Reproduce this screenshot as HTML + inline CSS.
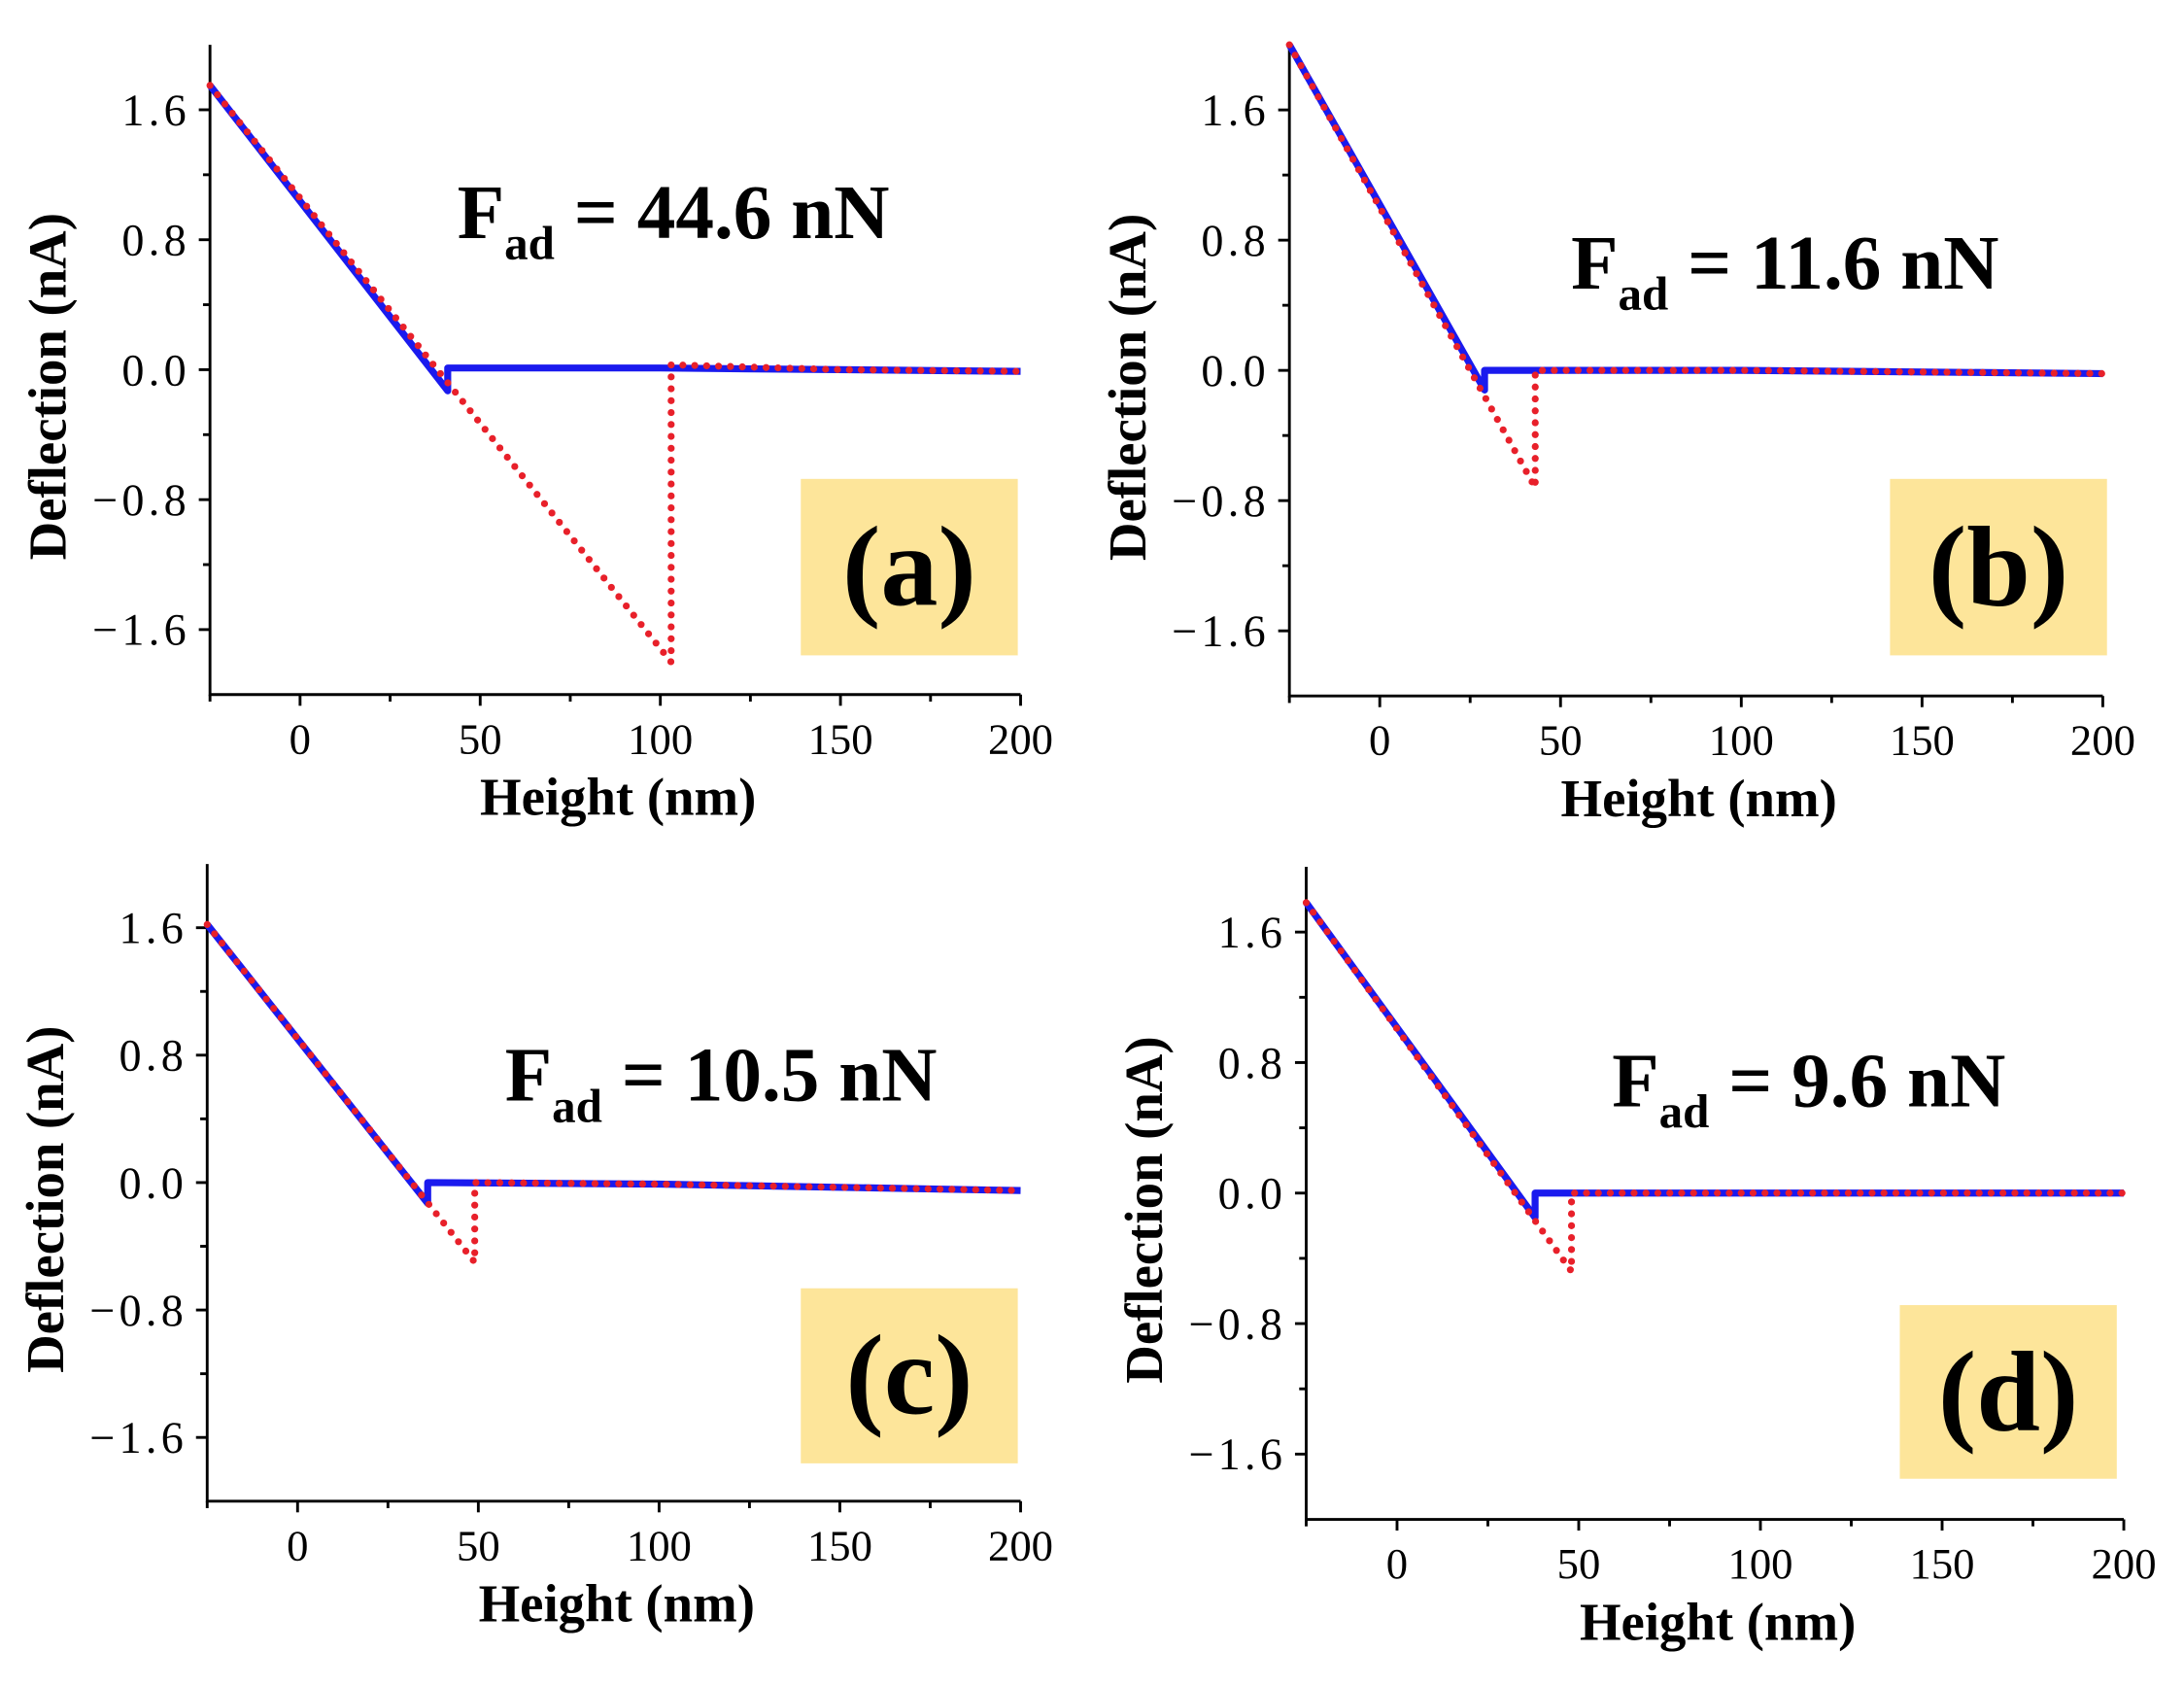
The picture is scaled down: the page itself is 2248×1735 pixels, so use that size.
<!DOCTYPE html>
<html><head><meta charset="utf-8"><style>
html,body{margin:0;padding:0;background:#fff;}
svg{display:block;}
text{font-family:"Liberation Serif",serif;fill:#000;}
</style></head><body>
<svg id="fig" width="2248" height="1735" viewBox="0 0 1560 1204" preserveAspectRatio="none" xmlns="http://www.w3.org/2000/svg"></svg>
<script>
// x tick values and labels
const xTicks = [0, 50, 100, 150, 200];
const xTickLabels = ["0", "50", "100", "150", "200"];
const yTicks = [1.6, 0.8, 0, -0.8, -1.6];
const yTickLabels = ["1.6", "0.8", "0.0", "\u22120.8", "\u22121.6"];
// approach (blue) and retract (red) curves: [x, y] vertices
const blueA = [[-25, 1.75], [41, -0.13], [41, 0.01], [100, 0.01], [200, -0.01]];
const redA = [[-25, 1.75], [103, -1.8], [103, 0.03], [150, 0.0], [200, -0.01]];
const blueB = [[-25, 2.0], [29, -0.12], [29, 0.0], [100, 0.0], [200, -0.02]];
const redB = [[-25, 2.0], [43, -0.72], [43, 0.0], [100, 0.0], [200, -0.02]];
const blueC = [[-25, 1.62], [36, -0.13], [36, 0.0], [100, -0.01], [200, -0.05]];
const redC = [[-25, 1.62], [49, -0.5], [49, 0.0], [100, -0.01], [200, -0.05]];
const blueD = [[-25, 1.78], [38, -0.15], [38, 0.0], [100, 0.0], [200, 0.0]];
const redD = [[-25, 1.78], [48, -0.48], [48, 0.0], [100, 0.0], [200, 0.0]];
const forceLabels = ["44.6", "11.6", "10.5", "9.6"];
const panelLetters = ["(a)", "(b)", "(c)", "(d)"];

const panels = [
  {L:150, R:729, T:32, B:496, blue:blueA, red:redA, lx:481, ly:170, box:[572,342,155,126]},
  {L:921, R:1502, T:32, B:497, blue:blueB, red:redB, lx:1275, ly:206, box:[1350,342,155,126]},
  {L:148, R:729, T:617, B:1072, blue:blueC, red:redC, lx:515, ly:786, box:[572,920,155,125]},
  {L:933, R:1517, T:619, B:1085, blue:blueD, red:redD, lx:1292, ly:790, box:[1357,932,155,124]}
];
const NS = "http://www.w3.org/2000/svg";
const svg = document.getElementById('fig');
function mk(tag, attrs, parent){
  const e = document.createElementNS(NS, tag);
  for (const k in attrs) e.setAttribute(k, attrs[k]);
  parent.appendChild(e); return e;
}
panels.forEach((p, i) => {
  const g = mk('g', {}, svg);
  
  
  const xs = v => p.L + (v + 25) / 225 * (p.R - p.L);
  const ys = v => p.B - (v + 2) / 4 * (p.B - p.T);
  const bx = mk('rect', {x:p.box[0], y:p.box[1], width:p.box[2], height:p.box[3], fill:'#fde59a'}, g);
  
  
  const lt = mk('text', {x:p.box[0]+p.box[2]/2, y:p.box[1]+p.box[3]/2+27, 'text-anchor':'middle', 'font-size':82, 'font-weight':'bold'}, g);
  lt.textContent = panelLetters[i];
  
  
  const ax = mk('path', {d:`M${p.L},${p.T} V${p.B} H${p.R}`, stroke:'#000', 'stroke-width':2, fill:'none'}, g);
  
  
  for (let v = -25; v <= 200; v += 25) {
    const major = v % 50 === 0;
    mk('line', {x1:xs(v), x2:xs(v), y1:p.B, y2:p.B + (major ? 8 : 5), stroke:'#000', 'stroke-width':2}, g);
  }
  for (let k = -4; k <= 4; k++) {
    const v = k * 0.4;
    const major = k % 2 === 0;
    mk('line', {x1:p.L, x2:p.L - (major ? 8 : 5), y1:ys(v), y2:ys(v), stroke:'#000', 'stroke-width':2}, g);
  }
  xTicks.forEach((v, j) => {
    const t = mk('text', {x:xs(v), y:p.B + 42, 'text-anchor':'middle', 'font-size':31}, g);
    t.textContent = xTickLabels[j];
    
    
  });
  yTicks.forEach((v, j) => {
    const t = mk('text', {x:p.L - 14, y:ys(v) + 11, 'text-anchor':'end', 'font-size':32, 'letter-spacing':3}, g);
    t.textContent = yTickLabels[j];
    
    
  });
  const xt = mk('text', {x:(p.L + p.R)/2 + 2, y:p.B + 86, 'text-anchor':'middle', 'font-size':38, 'font-weight':'bold'}, g);
  xt.textContent = 'Height (nm)';
  
  
  const yc = (p.T + p.B) / 2 + 12;
  const yx = p.L - 103;
  const yt = mk('text', {x:yx, y:yc, 'text-anchor':'middle', 'font-size':38, 'font-weight':'bold', transform:`rotate(-90 ${yx} ${yc})`}, g);
  yt.textContent = 'Deflection (nA)';
  
  
  const ft = mk('text', {x:p.lx, y:p.ly, 'text-anchor':'middle', 'font-size':55, 'font-weight':'bold'}, g);
  
  
  const t1 = mk('tspan', {}, ft); t1.textContent = 'F';
  const t2 = mk('tspan', {'font-size':34, dy:15}, ft); t2.textContent = 'ad';
  const t3 = mk('tspan', {dy:-15}, ft); t3.textContent = ' = ' + forceLabels[i] + ' nN';
  const toD = arr => arr.map((q, k) => (k ? 'L' : 'M') + xs(q[0]).toFixed(1) + ',' + ys(q[1]).toFixed(1)).join(' ');
  const bl = mk('path', {d:toD(p.blue), stroke:'#1a1aee', 'stroke-width':5, fill:'none', 'stroke-linejoin':'round'}, g);
  
  
  const rd = mk('path', {d:toD(p.red), stroke:'#e8202a', 'stroke-width':5, fill:'none', 'stroke-dasharray':'0 8.5', 'stroke-linecap':'round'}, g);
  
  
});
</script>
</body></html>
